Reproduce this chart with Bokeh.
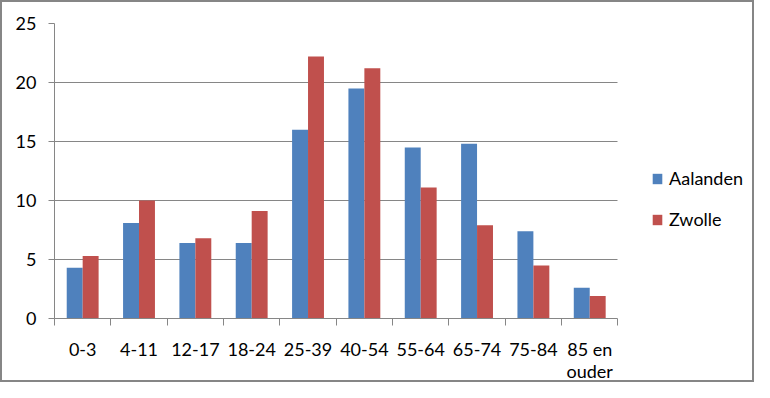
from bokeh.plotting import figure
from bokeh.models import FixedTicker, Legend, LegendItem, Range1d, ColumnDataSource, Grid
from bokeh.transform import dodge
from bokeh.embed import file_html
from bokeh.resources import INLINE

categories = ["0-3", "4-11", "12-17", "18-24", "25-39", "40-54", "55-64", "65-74", "75-84", "85 en\nouder"]
aalanden = [4.3, 8.1, 6.4, 6.4, 16.0, 19.5, 14.5, 14.8, 7.4, 2.6]
zwolle = [5.3, 10.0, 6.8, 9.1, 22.2, 21.2, 11.1, 7.9, 4.5, 1.9]
y_ticks = [0, 5, 10, 15, 20, 25]

BLUE = "#4F81BD"
RED = "#C0504D"
GRID = "#868686"
FONT = "Lato"

n = len(categories)
pos = [i + 0.5 for i in range(n)]
bounds = list(range(n + 1))
src = ColumnDataSource(dict(x=pos, a=aalanden, z=zwolle))

# layout: the plot area (565 px for the n categories) plus a legend strip on the right
FRAME_W, PLOT_W = 704, 565
x_end = n * FRAME_W / PLOT_W

p = figure(width=754, height=382, x_range=Range1d(0, x_end), y_range=Range1d(0, 25),
           output_backend="svg", toolbar_location=None,
           min_border_left=52, min_border_right=0, min_border_top=21, min_border_bottom=56)
p.styles = {"border": "2px solid #868686"}
p.outline_line_color = None
p.background_fill_color = "white"
p.border_fill_color = "white"

bw = 0.283
ra = p.vbar(x=dodge("x", -bw / 2, range=p.x_range), top="a", width=bw, source=src,
            fill_color=BLUE, line_color=None)
rz = p.vbar(x=dodge("x", bw / 2, range=p.x_range), top="z", width=bw, source=src,
            fill_color=RED, line_color=None)

# grid
p.xgrid.visible = False
yg = p.ygrid[0]
yg.ticker = FixedTicker(ticks=y_ticks)
yg.grid_line_color = GRID
yg.grid_line_width = 1
if "cross_bounds" in Grid.properties():
    yg.cross_bounds = (0, n)
else:
    yg.visible = False
    p.segment(x0=0, x1=n, y0=y_ticks, y1=y_ticks, line_color=GRID, line_width=1)

# y axis
ya = p.yaxis[0]
ya.ticker = FixedTicker(ticks=y_ticks, minor_ticks=[])
ya.axis_line_color = GRID
ya.major_tick_line_color = GRID
ya.major_tick_in = 0
ya.major_tick_out = 6
ya.minor_tick_in = 0
ya.minor_tick_out = 0
ya.major_label_standoff = 12
ya.major_label_text_font = FONT
ya.major_label_text_font_size = "18px"
ya.major_label_text_color = "black"

# x axis
xa = p.xaxis[0]
xa.bounds = (0, n)
xa.ticker = FixedTicker(ticks=pos, minor_ticks=bounds)
xa.major_label_overrides = {x: c for x, c in zip(pos, categories)}
xa.axis_line_color = GRID
xa.major_tick_in = 0
xa.major_tick_out = 0
xa.minor_tick_in = 0
xa.minor_tick_out = 7
xa.minor_tick_line_color = GRID
xa.major_label_standoff = 12
xa.major_label_text_font = FONT
xa.major_label_text_font_size = "18px"
xa.major_label_text_color = "black"
xa.major_label_text_line_height = 1.0

legend = Legend(items=[LegendItem(label="Aalanden", renderers=[ra]),
                       LegendItem(label="Zwolle", renderers=[rz])],
                location=(597, 88), orientation="vertical",
                glyph_width=12, glyph_height=13, label_height=22, spacing=19,
                label_standoff=6, padding=0, margin=0,
                border_line_color=None, background_fill_alpha=0,
                label_text_font=FONT, label_text_font_size="18px", label_text_color="black")
p.add_layout(legend)

open("out.html", "w").write(file_html(p, INLINE))
